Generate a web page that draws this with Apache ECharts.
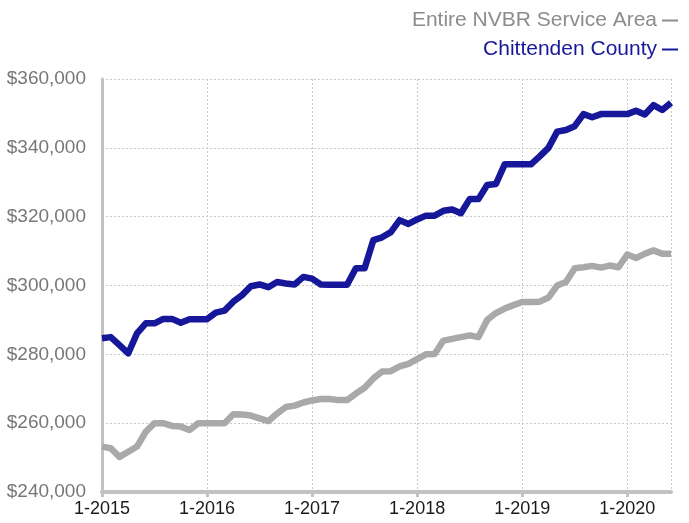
<!DOCTYPE html>
<html>
<head>
<meta charset="utf-8">
<script src="https://cdn.jsdelivr.net/npm/echarts@6/dist/echarts.min.js"></script>
<style>
html,body{margin:0;padding:0;background:#fff;}
#chart{width:689px;height:523px;}
</style>
</head>
<body>
<div id="chart"></div>
<script>
// Categories: monthly, Jan 2015 .. Jun 2020
const years = [2015, 2016, 2017, 2018, 2019, 2020];
const lastMonth2020 = 6;
const categories = [];
years.forEach(y => {
  const maxM = (y === 2020) ? lastMonth2020 : 12;
  for (let m = 1; m <= maxM; m++) categories.push(m + '-' + y);
});

const seriesNames = ['Entire NVBR Service Area', 'Chittenden County'];

const nvbrValues = [
  253200, 252700, 250200, 251700, 253200, 257500, 260000, 260000, 259200, 259000, 258000, 260000,
  260000, 260000, 260000, 262600, 262500, 262200, 261400, 260600, 262800, 264700, 265100, 266000,
  266600, 267000, 267000, 266700, 266700, 268600, 270300, 273000, 275000, 275100, 276500, 277200,
  278600, 280000, 280100, 284000, 284500, 285000, 285500, 285000, 290000, 292000, 293300, 294300,
  295200, 295200, 295300, 296500, 300000, 301000, 305000, 305300, 305700, 305200, 305800, 305300,
  309000, 308000, 309200, 310200, 309200, 309200
];

const chittendenValues = [
  284700, 285000, 282700, 280300, 286100, 289000, 289000, 290300, 290300, 289200, 290200, 290200,
  290200, 292100, 292700, 295300, 297200, 299800, 300300, 299500, 301000, 300600, 300300, 302500,
  302000, 300300, 300200, 300200, 300200, 305000, 305000, 313200, 314000, 315500, 319000, 317900,
  319200, 320300, 320300, 321700, 322100, 321000, 325100, 325100, 329200, 329500, 335200, 335200,
  335200, 335200, 337500, 340000, 344700, 345200, 346300, 349800, 348900, 349800, 349800, 349800,
  349800, 350800, 349700, 352400, 351000, 353100
];

const yMin = 240000, yMax = 360000, yStep = 20000;
const colors = ['#a9a9a9', '#17179a'];

const chart = echarts.init(document.getElementById('chart'), null, {renderer: 'canvas'});
const lastIdx = categories.length - 1;
const FONT = 'Liberation Sans, Arial, sans-serif';

chart.setOption({
  animation: false,
  backgroundColor: '#ffffff',
  textStyle: {fontFamily: FONT},
  legend: {
    orient: 'vertical',
    right: 6,
    top: 5,
    align: 'right',
    itemGap: 8,
    itemWidth: 16,
    itemHeight: 2,
    icon: 'rect',
    textStyle: {fontSize: 21, fontFamily: FONT},
    data: [
      {name: seriesNames[0], textStyle: {color: '#8c8c8c'}, itemStyle: {color: '#8c8c8c'}},
      {name: seriesNames[1], textStyle: {color: colors[1]}, itemStyle: {color: colors[1]}}
    ]
  },
  grid: {left: 102, right: 18, top: 79, bottom: 31, containLabel: false},
  xAxis: {
    type: 'category',
    data: categories,
    boundaryGap: false,
    axisLine: {show: true, lineStyle: {color: '#c2c2c2', width: 4}},
    axisTick: {
      show: true,
      length: 5,
      interval: function (i) { return i % 12 === 0; },
      lineStyle: {color: '#c2c2c2', width: 3}
    },
    axisLabel: {
      interval: function (i) { return i % 12 === 0; },
      color: '#1a1a1a',
      fontSize: 18,
      margin: 8
    },
    splitLine: {
      show: true,
      interval: function (i) { return i % 12 === 0 || i === lastIdx; },
      lineStyle: {color: '#c8c8c8', type: [2, 2], width: 1}
    }
  },
  yAxis: {
    type: 'value',
    min: yMin,
    max: yMax,
    interval: yStep,
    axisLine: {show: true, lineStyle: {color: '#c2c2c2', width: 3}},
    axisTick: {show: false},
    axisLabel: {
      color: '#777777',
      fontSize: 19,
      margin: 16,
      formatter: function (v) { return '$' + v.toLocaleString('en-US'); }
    },
    splitLine: {show: true, lineStyle: {color: '#c8c8c8', type: [2, 2], width: 1}}
  },
  series: [
    {
      name: seriesNames[0],
      type: 'line',
      data: nvbrValues,
      symbol: 'none',
      lineStyle: {color: colors[0], width: 6.5, join: 'round'},
      itemStyle: {color: colors[0]}
    },
    {
      name: seriesNames[1],
      type: 'line',
      data: chittendenValues,
      symbol: 'none',
      lineStyle: {color: colors[1], width: 6.5, join: 'round'},
      itemStyle: {color: colors[1]}
    }
  ]
});
</script>
</body>
</html>
